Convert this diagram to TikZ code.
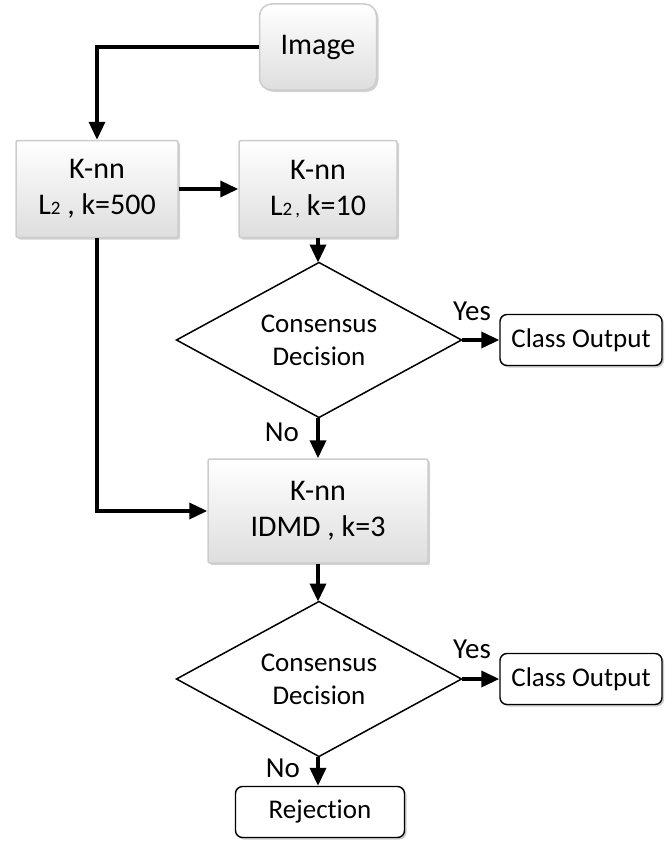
\documentclass[tikz,border=0pt]{standalone}
\usepackage{fontspec}
\setmainfont[Ligatures=NoCommon]{Carlito}
\usetikzlibrary{shapes.geometric,arrows.meta,shadows}

\begin{document}
\begin{tikzpicture}
[x=1pt,y=-1pt,>={Triangle[length=18pt,width=16pt]},
 line/.style={line width=3.6pt,draw=black},
 knn/.style={draw=black!20,line width=1.5pt,top color=white,bottom color=black!13,
   drop shadow={opacity=0.35,shadow xshift=2pt,shadow yshift=-2pt},
   rounded corners=2pt,align=center,font=\fontsize{30}{36}\selectfont},
 decision/.style={diamond,aspect=1.84,draw=black,line width=1.5pt,fill=white,minimum width=285pt,
   minimum height=155pt,inner sep=0pt,outer sep=0pt,align=center,font=\fontsize{27}{33}\selectfont},
 outbox/.style={draw=black,line width=1.4pt,fill=white,rounded corners=7pt,
   drop shadow={opacity=0.4,shadow xshift=2pt,shadow yshift=-2pt},
   font=\fontsize{27}{32}\selectfont},
 answer/.style={font=\fontsize{29}{34}\selectfont}]

\useasboundingbox (0,0) rectangle (664,843);

%Input
\node (I) at (318,47)[knn,rounded corners=12pt,minimum width=117pt,minimum height=86pt] {Image};

%K-nn stages
\node (K1) at (97,189)[knn,minimum width=162pt,minimum height=97pt] {K-nn\\L{\fontsize{19}{19}\selectfont 2} , k=500};
\node (K2) at (318,189)[knn,minimum width=158pt,minimum height=97pt] {K-nn\\L{\fontsize{19}{19}\selectfont 2}{\fontsize{19}{19}\selectfont\,,} k=10};
\node (K3) at (318,511)[knn,minimum width=220pt,minimum height=104pt] {K-nn\\IDMD , k=3};

%Decisions
\node (D1) at (319,340)[decision] {Consensus\\Decision};
\node (D2) at (319,679)[decision] {Consensus\\Decision};

%Outputs
\node (C1) at (581,340)[outbox,minimum width=162pt,minimum height=51pt] {Class Output};
\node (C2) at (581,679)[outbox,minimum width=162pt,minimum height=51pt] {Class Output};
\node (R) at (320,812)[outbox,minimum width=169pt,minimum height=51pt] {Rejection};

%Labels of the decisions
\node (Y1) at (472,311)[answer] {Yes};
\node (N1) at (282,432)[answer] {No};
\node (Y2) at (472,649)[answer] {Yes};
\node (N2) at (283,768)[answer] {No};

%Joining the boxes
\draw[line,->] (I.west) -| (K1.north);
\draw[line,->] (K1.east) -- (K2.west);
\draw[line,->] (K2.south) -- (K2.south |- D1.north);
\draw[line,->] (D1.east) -- (C1.west);
\draw[line,->] (K3.north |- D1.south) -- (K3.north);
\draw[line,->] (K1.south) |- (K3.west);
\draw[line,->] (K3.south) -- (K3.south |- D2.north);
\draw[line,->] (D2.east) -- (C2.west);
\draw[line,->] (K3.south |- D2.south) -- (K3.south |- R.north);

\end{tikzpicture}
\end{document}
